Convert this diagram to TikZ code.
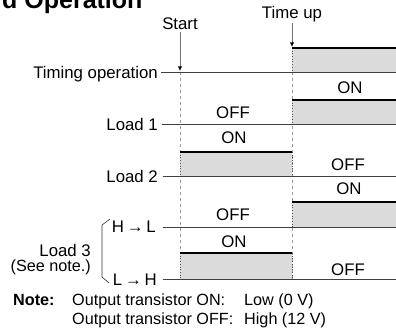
\documentclass[tikz,border=0pt]{standalone}
\usepackage{fontspec}
\setmainfont{Liberation Sans}
\usetikzlibrary{arrows.meta}
\begin{document}
\begin{tikzpicture}[x=1pt,y=-1pt,
  font=\fontsize{16.8}{19}\selectfont,
  lbl/.style={inner sep=0pt, anchor=base east},
  st/.style={inner sep=0pt},
  notetxt/.style={anchor=base west, inner sep=0pt, font=\fontsize{16.2}{19}\selectfont},
  base/.style={draw=black!75, line width=0.8pt},
  hi/.style={fill=black!14},
  topedge/.style={draw=black, line width=1.6pt},
  side/.style={draw=black!70, dotted, line width=0.7pt},
  guide/.style={draw=black!40, dash pattern=on 3pt off 3pt, line width=0.6pt},
  arr/.style={draw=black!55, line width=0.6pt, -{Latex[black,length=4.5pt,width=4pt]}},
  brk/.style={draw=black!80, line width=0.6pt}]
\useasboundingbox (0,0) rectangle (396,329);

% title (cut off at top, as in the reference)
\node[anchor=base west, inner sep=0pt, font=\fontsize{25}{30}\selectfont\bfseries] (title) at (2,9) {d Operation};

% guides
\coordinate (gA1) at (180,72);
\coordinate (gA2) at (180,253);
\coordinate (gB1) at (292,48);
\coordinate (gB2) at (292,279);
\draw[guide] (gA1) -- (gA2);
\draw[guide] (gB1) -- (gB2);

% high-level boxes
\fill[hi] (292,48) rectangle (396,72);
\fill[hi] (292,100) rectangle (396,124);
\fill[hi] (180,152) rectangle (292,176);
\fill[hi] (292,202) rectangle (396,227);
\fill[hi] (180,253) rectangle (292,279);

% vertical sides
\draw[side] (292,48) -- (292,72);
\draw[side] (292,100) -- (292,124);
\draw[side] (180,152) -- (180,176);
\draw[side] (292,152) -- (292,176);
\draw[side] (292,202) -- (292,227);
\draw[side] (180,253) -- (180,279);
\draw[side] (292,253) -- (292,279);

% top edges
\draw[topedge] (292,48) -- (396,48);
\draw[topedge] (292,100) -- (396,100);
\draw[topedge] (180,152) -- (292,152);
\draw[topedge] (292,202) -- (396,202);
\draw[topedge] (180,253) -- (292,253);

% signal labels and base lines
\node[lbl] (tim) at (158,78) {Timing operation};
\node[lbl] (l1) at (158,130) {Load 1};
\node[lbl] (l2) at (158,182) {Load 2};
\node[lbl] (hl) at (156,232.5) {H\,\textrightarrow\,L};
\node[lbl] (lh) at (157,285.5) {L\,\textrightarrow\,H};
\coordinate (timE) at (396,72);
\coordinate (l1E) at (396,124);
\coordinate (l2E) at (396,176);
\coordinate (hlE) at (396,227);
\coordinate (lhE) at (396,279);
\draw[base] ([xshift=3pt]tim.east |- timE) -- (timE);
\draw[base] ([xshift=4pt]l1.east |- l1E) -- (l1E);
\draw[base] ([xshift=5pt]l2.east |- l2E) -- (l2E);
\draw[base] ([xshift=7pt]hl.east |- hlE) -- (hlE);
\draw[base] ([xshift=6pt]lh.east |- lhE) -- (lhE);

% Load 3 label and bracket
\node[lbl] (l3) at (91,256) {Load 3};
\node[lbl, font=\fontsize{16.2}{19}\selectfont] (see) at (91,271) {(See note.)};
\draw[brk] (110,219) -- (102,225) -- (102,277) -- (109,283);

% Start / Time up
\node[st, anchor=base] (start) at (180,29.5) {Start};
\node[st, anchor=base] (tup) at (292,18.5) {Time up};
\coordinate (startT) at (180,71);
\coordinate (tupT) at (292,47);
\draw[arr] ([yshift=-2.5pt]start.south) -- (startT);
\draw[arr] ([yshift=-1pt]tup.south) -- (tupT);

% ON / OFF labels
\node[st] (on1) at (350,88) {ON};
\node[st] (off1) at (233,113) {OFF};
\node[st] (on2) at (234,138) {ON};
\node[st] (off2) at (348,165) {OFF};
\node[st] (on3) at (349,189) {ON};
\node[st] (off3) at (233,215) {OFF};
\node[st] (on4) at (234,242) {ON};
\node[st] (off4) at (348,270) {OFF};

% note
\node[notetxt, font=\fontsize{16.2}{19}\selectfont\bfseries] (note) at (13,305) {Note:};
\node[notetxt] (n1) at (72,305) {Output transistor ON:};
\node[notetxt] (n1v) at (244,305) {Low (0 V)};
\node[notetxt] (n2) at (72,324.5) {Output transistor OFF:};
\node[notetxt] (n2v) at (244,324.5) {High (12 V)};
\end{tikzpicture}
\end{document}
